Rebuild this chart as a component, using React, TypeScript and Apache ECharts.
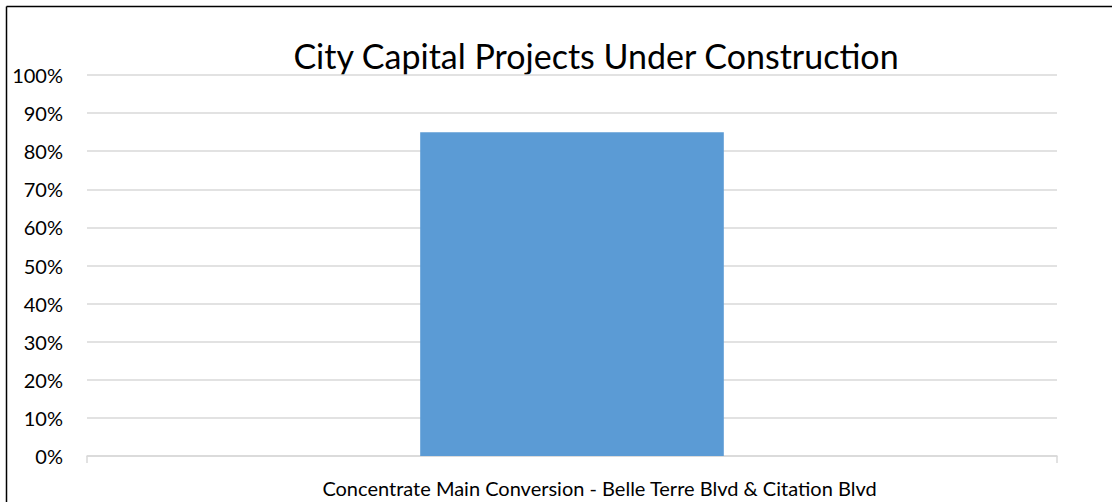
import React, { useEffect, useRef } from "react";
import * as echarts from "echarts";

const titleText = "City Capital Projects Under Construction";
const categories = ["Concentrate Main Conversion - Belle Terre Blvd & Citation Blvd"];
const values = [0.85];
const yMin = 0;
const yMax = 1;
const yInterval = 0.1;

export default function App() {
  const ref = useRef<HTMLDivElement>(null);
  useEffect(() => {
    if (!ref.current) return;
    const chart = echarts.init(ref.current, undefined, { renderer: "svg" });
    const font = "Lato, 'Open Sans', sans-serif";
    chart.setOption({
      animation: false,
      backgroundColor: "#ffffff",
      textStyle: { fontFamily: font },
      graphic: [
        {
          type: "line",
          shape: { x1: 6.5, y1: 6.5, x2: 1112, y2: 6.5 },
          style: { stroke: "#000000", lineWidth: 1.5 },
          silent: true,
        },
        {
          type: "line",
          shape: { x1: 6.5, y1: 6.5, x2: 6.5, y2: 502 },
          style: { stroke: "#000000", lineWidth: 1.5 },
          silent: true,
        },
        {
          type: "text",
          x: 596,
          y: 55,
          style: {
            text: titleText,
            fontFamily: font,
            fontSize: 34,
            fill: "#000000",
            textAlign: "center",
            textVerticalAlign: "middle",
          },
        },
      ],
      grid: { left: 87, right: 55, top: 75, bottom: 46, containLabel: false },
      xAxis: {
        type: "category",
        data: categories,
        boundaryGap: true,
        axisLine: { show: true, lineStyle: { color: "#d9d9d9", width: 1.5 } },
        axisTick: { show: true, length: 7, alignWithLabel: false, lineStyle: { color: "#d9d9d9", width: 1.5 } },
        axisLabel: { color: "#000000", fontSize: 20, fontFamily: font, margin: 22, padding: [0, 0, 0, 55] },
        splitLine: { show: false },
      },
      yAxis: {
        type: "value",
        min: yMin,
        max: yMax,
        interval: yInterval,
        axisLine: { show: false },
        axisTick: { show: false },
        axisLabel: {
          color: "#000000",
          fontSize: 20,
          fontFamily: font,
          margin: 24,
          formatter: (v: number) => `${Math.round(v * 100)}%`,
        },
        splitLine: { show: true, lineStyle: { color: "#d9d9d9", width: 1.5 } },
      },
      series: [
        {
          type: "bar",
          data: values,
          barWidth: "31.3%",
          itemStyle: { color: "#5b9bd5" },
        },
      ],
    });
    return () => chart.dispose();
  }, []);
  return (
    <div
      ref={ref}
      style={{ position: "fixed", left: 0, top: 0, width: 1112, height: 502 }}
    />
  );
}
